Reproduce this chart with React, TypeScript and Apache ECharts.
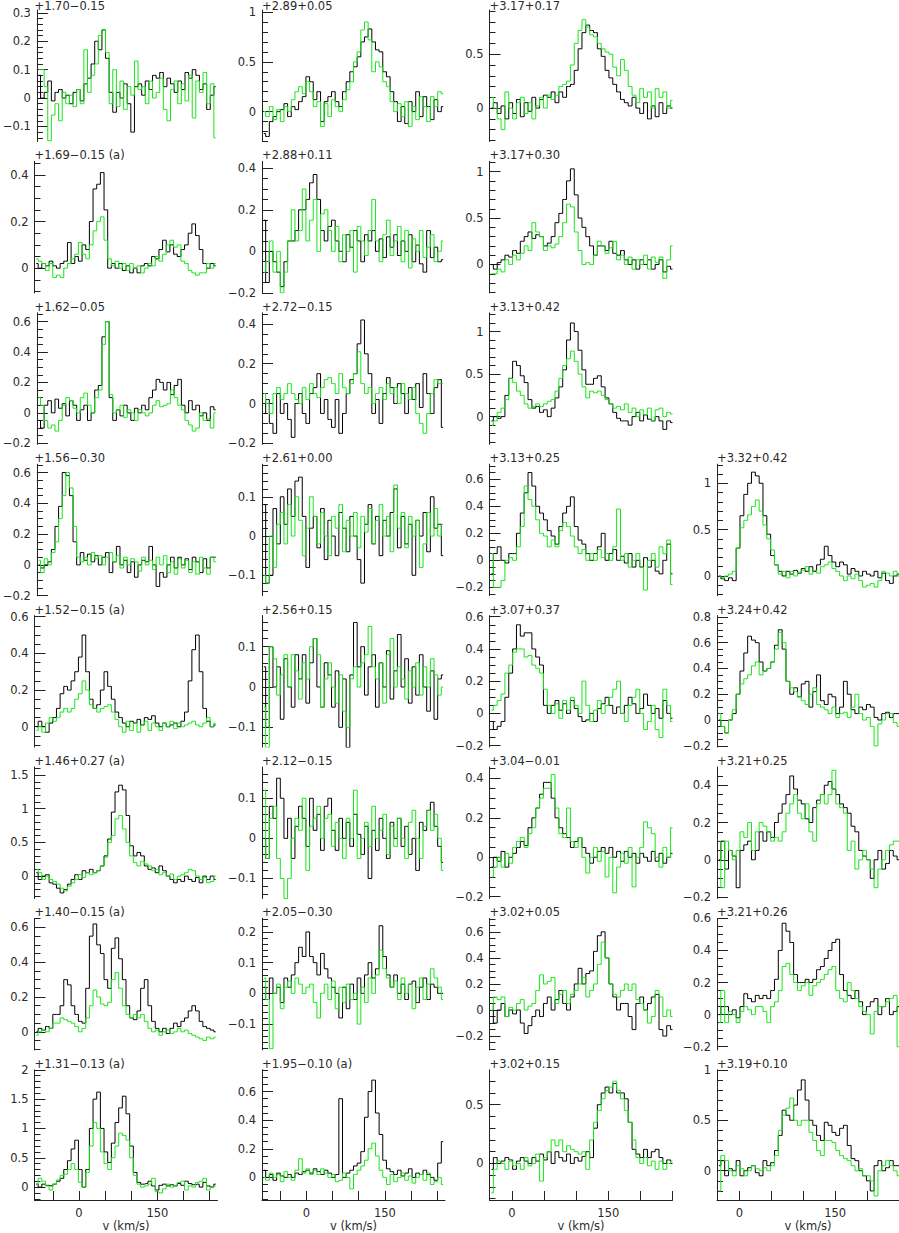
import React, { useEffect, useRef } from "react";
import * as echarts from "echarts";

// Channel velocities (km/s): columns 1-2 and columns 3-4
const velocityWide = [-81.5, -74.5, -67.5, -60.5, -53.5, -46.5, -39.5, -32.5, -25.5, -18.5, -11.5, -4.5, 2.5, 9.5, 16.5, 23.5, 30.5, 37.5, 44.5, 51.5, 58.5, 65.5, 72.5, 79.5, 86.5, 93.5, 100.5, 107.5, 114.5, 121.5, 128.5, 135.5, 142.5, 149.5, 156.5, 163.5, 170.5, 177.5, 184.5, 191.5, 198.5, 205.5, 212.5, 219.5, 226.5, 233.5, 240.5, 247.5, 254.5, 261.5];
const velocityNarrow = [-32, -26, -20, -14, -8, -2, 4, 10, 16, 22, 28, 34, 40, 46, 52, 58, 64, 70, 76, 82, 88, 94, 100, 106, 112, 118, 124, 130, 136, 142, 148, 154, 160, 166, 172, 178, 184, 190, 196, 202, 208, 214, 220, 226, 232, 238, 244, 250];

// Column 1
const black_170m015 = [.08, 0, .02, .06, -.01, .02, .03, 0, .01, -.02, .02, .03, -.01, .05, .07, .12, .2, .17, .24, .14, .02, -.05, .02, 0, .05, -.02, -.12, .04, .05, .01, .06, .03, .08, .07, .09, .04, .07, .05, .02, .06, .03, .09, .07, .1, .08, .03, .05, -.04, .01, .04];
const green_170m015 = [.1, .1, .04, -.15, -.06, -.02, -.08, .02, -.02, .01, -.03, .03, -.02, .17, .02, .08, .12, .22, .24, .16, -.02, .1, -.03, .06, -.04, .04, .01, .13, .03, .04, -.02, .06, 0, .02, .07, -.04, -.08, .03, .06, -.02, .05, -.01, .08, -.07, .06, .02, .09, -.02, .05, -.14];
const black_169m015 = [.02, 0, .02, .01, .03, .01, 0, .02, .03, .11, .02, .05, .03, .1, .08, .2, .34, .36, .41, .25, 0, .02, 0, .02, -.01, .01, -.02, 0, -.02, .01, .02, .01, .05, .04, .08, .12, .07, .1, .06, .05, .08, .1, .15, .19, .14, .08, .02, 0, .02, .01];
const green_169m015 = [.04, .03, .02, -.01, .02, -.04, -.03, -.04, 0, .02, .04, .06, .11, .06, .04, .1, .16, .2, .22, .12, .04, .01, .03, 0, .02, -.01, .02, 0, .01, -.02, 0, .02, .01, .05, .03, .06, .1, .12, .09, .1, .03, .02, -.01, -.02, -.03, -.02, -.02, .02, 0, .02];
const black_162m005 = [-.05, -.1, .05, .08, 0, .09, .03, .06, -.02, .08, .05, -.05, .02, .05, -.05, 0, .15, .18, .5, .6, .1, -.05, .02, -.02, .05, 0, -.05, .03, 0, .05, .02, .1, .15, .22, .2, .15, .2, .12, .18, .22, .05, 0, .08, .02, .05, -.02, 0, -.05, .04, .02];
const green_162m005 = [.1, .05, -.05, -.1, -.08, -.12, -.05, .05, .1, .08, .03, 0, .1, .13, .05, 0, .1, .15, .45, .6, .12, 0, .02, .05, -.03, .02, 0, -.05, .02, 0, -.02, 0, .05, .08, .04, .05, .06, .15, .1, .05, .02, -.05, -.08, -.12, -.1, 0, -.05, -.04, -.1, 0];
const black_156m030 = [0, -.02, 0, .02, .1, .25, .38, .6, .58, .45, .15, 0, .08, .03, .07, .02, .06, 0, .05, .08, -.05, .02, .12, 0, .03, -.05, .02, -.08, 0, .03, .02, .12, 0, -.14, -.05, -.08, 0, .05, -.02, .05, 0, .04, -.03, .05, .02, -.05, .04, -.02, .05, .05];
const green_156m030 = [.03, -.05, .04, 0, .08, .15, .3, .45, .6, .5, .25, .05, .02, .05, 0, .08, .04, .06, 0, .05, .08, .02, .06, -.02, .05, 0, .04, .02, -.04, .05, 0, .03, -.03, .05, 0, .06, -.05, .02, -.06, .04, -.02, .03, -.05, .02, -.06, .05, -.02, -.06, .05, .02];
const black_152m015 = [0, .03, 0, -.03, .02, .05, .1, .18, .22, .2, .25, .3, .38, .5, .3, .15, .1, .12, .2, .3, .22, .15, .08, .05, .02, 0, .03, .02, .04, .01, .05, .04, .06, .02, 0, .02, 0, .01, .02, 0, .03, .08, .25, .42, .5, .3, .1, .03, 0, .01];
const green_152m015 = [-.02, 0, -.03, .02, .05, .03, .05, .08, .1, .08, .1, .15, .18, .25, .2, .12, .1, .08, .1, .11, .12, .08, .04, 0, -.03, .03, -.02, .02, -.03, .01, .03, -.02, .02, 0, -.02, .02, 0, .03, -.01, .02, 0, .01, .02, .03, .01, 0, .02, .05, 0, .02];
const black_146p027 = [.05, -.05, 0, .02, -.1, -.12, -.18, -.25, -.2, -.12, -.05, .02, -.05, .08, .05, .1, .05, .08, .15, .3, .55, .95, 1.25, 1.35, 1.28, .9, .45, .3, .35, .3, .15, .1, .12, .05, .15, .08, 0, -.05, -.1, -.05, -.08, 0, -.05, -.08, -.02, -.1, 0, -.05, 0, -.05];
const green_146p027 = [.1, .05, -.05, 0, -.05, -.08, -.12, -.18, -.22, -.15, -.1, -.05, .02, -.02, .05, .02, .05, .08, .15, .28, .5, .6, .85, .9, .7, .5, .3, .2, .15, .22, .18, .15, .08, .1, .02, .05, 0, .03, -.05, 0, .02, .05, .1, .08, 0, -.05, -.02, -.1, -.08, 0];
const black_140m015 = [0, .02, .01, .03, .02, .1, .1, .15, .3, .27, .15, .1, .06, .05, .25, .55, .62, .5, .45, .3, .25, .48, .54, .42, .3, .15, .08, .07, .12, .25, .3, .15, .06, .02, 0, .02, -.01, .02, .05, .03, .06, .08, .12, .15, .12, .06, .03, .02, .01, 0];
const green_140m015 = [-.02, 0, .01, 0, .02, .05, .05, .08, .07, .06, .05, .03, 0, .02, .08, .15, .24, .2, .16, .15, .17, .3, .34, .25, .15, .1, .08, .1, .08, .1, .06, .02, 0, .01, -.02, 0, .01, -.01, 0, .02, 0, .01, -.01, -.02, -.03, -.04, -.05, -.03, -.04, -.03];
const black_131m013 = [.05, 0, .05, .03, .02, .05, .1, .15, .3, .45, .65, .8, .3, 0, .3, 1, 1.5, 1.62, 1, .6, .42, .75, 1.1, 1.35, 1.55, 1.25, .7, .25, .08, .05, .06, .1, .02, -.05, .03, .05, .02, .04, .02, .06, .03, .1, .06, .04, .05, 0, .08, .02, 0, .05];
const green_131m013 = [.05, .15, .1, .02, -.05, .05, .12, .2, .22, .3, .4, .3, .08, 0, .25, .7, 1.1, 1, .6, .4, .3, .5, .7, .92, .88, .8, .5, .2, .05, 0, .02, .05, .15, -.08, -.1, -.03, .05, 0, .03, .08, .1, -.05, .02, 0, .08, .1, .15, -.05, 0, .02];

// Column 2
const black_289p005 = [-.22, -.25, -.1, -.05, 0, .02, .08, -.05, .05, .02, .1, .15, .35, .3, .12, .2, -.1, .1, .15, .2, .1, .05, .2, .3, .4, .45, .55, .7, .75, .83, .7, .62, .6, .4, .35, .2, .1, -.1, .05, -.12, .1, 0, .2, -.05, .15, .05, -.08, .12, 0, .05];
const green_289p005 = [0, -.05, .05, -.08, .02, -.1, .05, 0, .12, .2, .25, .18, .3, .2, .05, .1, -.15, .08, -.05, .12, .05, 0, .12, .22, .3, .5, .6, .82, .9, .72, .4, .5, .45, .3, .25, .1, 0, .08, -.05, .1, -.15, .05, -.08, .15, .05, -.1, .15, .05, .2, .18];
const black_288p011 = [.15, -.15, 0, -.05, -.1, -.17, -.05, .05, .05, .1, .2, .2, .25, .33, .37, .25, .1, .05, .12, .15, .05, 0, -.05, .08, .02, .1, .05, -.05, .08, .05, .1, 0, .06, -.03, .07, .02, .08, -.02, .05, 0, .08, -.05, .03, -.06, -.1, .1, -.03, .02, -.05, -.04];
const green_288p011 = [-.1, -.05, .05, -.1, 0, -.2, -.1, .05, .2, .05, .1, .3, .05, .15, .25, 0, .18, .2, .1, 0, .12, -.05, .08, 0, .1, -.1, .12, .05, -.02, .1, .25, .05, -.05, .08, .15, -.02, .05, .12, -.05, .1, -.08, .06, 0, .1, -.03, .02, .08, -.05, 0, .05];
const black_272m015 = [-.05, .02, -.1, -.15, .05, -.05, 0, -.08, -.17, 0, .05, -.05, -.1, .05, .08, .15, -.05, .02, -.08, -.12, .02, -.15, -.05, .05, .12, .15, .3, .42, .25, .15, -.05, .02, -.1, .05, .13, .08, 0, .1, .05, -.05, .08, .02, .1, -.02, .15, .05, -.05, .08, .12, -.12];
const green_272m015 = [.05, 0, -.05, .05, .08, .02, .05, .1, .05, .02, 0, .08, .02, .1, .05, .03, .08, .12, .13, .1, .05, .15, .08, .05, .1, .15, .26, .1, .05, .08, 0, .05, .08, .02, .1, .05, .08, 0, .1, .05, .02, .08, -.05, -.1, -.15, -.05, .05, .12, .1, .1];
const black_261p000 = [.08, -.12, -.1, .07, -.02, .1, .03, .12, .05, .14, .15, .05, -.08, .02, .05, -.03, .07, -.06, .04, 0, -.05, .06, .02, -.04, .05, 0, -.06, -.12, .03, .08, -.02, .05, -.05, .04, 0, .06, .12, -.03, .05, -.02, .03, -.1, .04, 0, .06, -.04, .1, .02, .03, -.05];
const green_261p000 = [-.1, -.12, 0, -.08, .03, .06, -.02, .08, 0, .1, .04, -.05, .02, .1, .05, -.02, .06, 0, -.05, .05, .02, .08, -.04, .04, 0, .06, -.03, .05, .01, .07, -.02, .04, .08, 0, .05, -.04, .13, .02, .06, -.03, .05, 0, .04, -.08, -.02, .06, 0, .07, 0, .03];
const black_256p015 = [.05, -.1, .1, 0, .05, -.08, .07, 0, -.05, .08, .02, .08, -.04, .06, .12, 0, -.05, .06, .03, -.05, .04, -.1, .02, -.15, .03, .16, .05, .1, -.02, .05, .08, -.05, .06, 0, .09, -.03, .04, .13, 0, .07, -.04, .05, -.02, .08, 0, -.06, .04, -.08, .02, .03];
const green_256p015 = [-.05, -.15, .1, .07, -.02, .03, .08, 0, .08, .04, -.03, .06, .02, .1, .12, .08, -.05, .02, .06, 0, -.04, .03, -.06, -.1, .02, .05, 0, .06, .08, .15, .05, .02, .06, -.04, .08, .12, 0, .05, .02, -.03, .04, 0, .06, -.02, .05, 0, .07, .03, -.02, 0];
const black_212m015 = [0, -.05, .08, .05, .15, .1, 0, .05, -.05, .03, .08, .05, -.02, .1, .02, .06, -.03, .08, .1, .02, -.03, .05, 0, .04, -.02, .06, .01, -.04, .03, -.1, .02, -.03, .05, 0, -.05, .04, 0, .05, -.02, .03, -.04, 0, -.08, .04, .02, .07, .09, .03, -.02, -.06];
const green_212m015 = [.12, -.05, .05, .08, -.05, -.1, -.15, -.1, 0, .05, .02, .1, -.08, .03, .05, .08, 0, .05, .06, -.02, .04, 0, -.05, .05, 0, .12, -.05, 0, .04, -.02, .08, 0, .02, .06, -.04, .03, -.02, .05, 0, -.05, .04, .07, 0, -.05, .03, .07, .02, .06, 0, -.08];
const black_205m030 = [.02, -.02, .05, 0, .02, -.03, .05, .02, .06, .1, .15, .12, .2, .12, .1, .06, .13, .08, .05, .02, 0, -.08, .02, -.05, .03, -.02, .05, 0, .06, .1, .05, .08, .22, .12, .06, .02, .06, 0, .03, -.02, .03, .04, -.03, .02, .05, -.02, .03, .02, 0, 0];
const green_205m030 = [.05, -.02, -.18, 0, .03, -.05, .02, .04, 0, .05, .03, 0, .02, .03, -.03, -.08, 0, .03, -.02, .04, -.05, .02, -.03, .03, -.02, 0, -.1, .02, -.03, .05, 0, .06, .14, .08, .05, .02, .04, -.02, .05, 0, .03, -.05, .02, .05, -.02, .03, .08, .05, .02, -.02];
const black_195m010 = [.05, 0, .02, -.02, .03, .01, 0, .02, 0, .03, .02, .04, .05, .03, .06, .04, .02, .05, .03, 0, .02, .55, 0, .03, .05, .08, .1, .18, .42, .6, .68, .45, .3, .12, .06, .04, .02, .05, .01, .03, .06, 0, .03, .02, .05, .02, 0, -.02, .1, .25];
const green_195m010 = [0, -.02, .03, 0, .02, -.03, .04, 0, -.02, .05, .13, .03, .06, .02, .05, .02, .06, .03, 0, .02, -.03, -.02, .03, 0, -.08, .02, .05, .08, .12, .2, .24, .15, .05, 0, -.05, .02, -.03, 0, .03, -.02, .01, -.04, 0, .02, -.02, .03, -.05, -.03, 0, -.05];

// Column 3
const black_317p017 = [0, .05, -.05, .02, -.1, .05, -.05, .08, -.08, .05, -.03, .1, 0, .08, .12, .1, .15, .05, .15, .1, .2, .22, .35, .55, .7, .77, .72, .7, .55, .48, .35, .28, .22, .15, .08, .05, .02, .1, 0, -.05, .05, -.1, .02, -.08, .05, -.05, .02, 0];
const green_317p017 = [.1, 0, -.1, -.2, .15, 0, -.1, .05, .1, -.05, .05, -.1, .02, .1, 0, .12, .08, .12, .2, .22, .25, .4, .6, .72, .82, .75, .68, .66, .6, .55, .52, .5, .38, .3, .45, .35, .2, .12, .05, .18, .1, .15, 0, .18, .1, .15, 0, .07];
const black_317p030 = [0, -.05, .02, .05, .1, .08, .15, .12, .25, .3, .35, .28, .32, .3, .2, .23, .3, .45, .55, .7, .9, 1.03, .75, .5, .4, .3, .2, .1, .2, .2, .15, .25, .12, .1, .15, .05, 0, .05, -.05, .05, 0, .05, -.05, 0, .05, -.08, -.02, -.05];
const green_317p030 = [-.1, -.1, -.05, -.08, .05, 0, .1, .05, .12, .2, .15, .45, .35, .3, .15, .2, .18, .22, .3, .45, .65, .62, .35, .15, 0, .02, 0, .1, .25, .2, .12, .18, .25, .05, .1, 0, .08, -.05, .05, 0, .1, -.05, .08, .02, .08, -.15, .05, .2];
const black_313p042 = [-.05, 0, -.02, 0, .25, .45, .65, .6, .48, .4, .2, .1, .12, .05, .08, 0, .1, .22, .35, .55, .9, 1.1, 1, .78, .55, .38, .38, .45, .48, .35, .22, .15, .05, -.02, -.05, -.05, -.1, 0, .05, -.05, .02, -.03, -.05, 0, -.05, -.15, -.05, -.07];
const green_313p042 = [-.1, -.05, .05, .1, .2, .45, .4, .3, .25, .15, .1, .12, .15, .12, .15, .18, .2, .3, .45, .6, .68, .77, .65, .5, .35, .22, .3, .28, .3, .25, .2, .15, .1, .12, .08, .15, .05, .1, 0, .08, .02, .1, -.05, .08, .1, 0, .05, .03];
const black_313p025 = [-.1, .05, .1, 0, -.02, .05, .05, .2, .35, .5, .65, .55, .4, .35, .3, .22, .18, .12, .25, .35, .4, .47, .25, .15, .12, .05, 0, .05, .1, .2, 0, .05, .08, 0, .03, -.02, .05, -.05, 0, -.05, .02, -.05, 0, -.08, -.1, 0, .12, -.1];
const green_313p025 = [.05, -.2, -.2, -.15, 0, .02, 0, .1, .25, .55, .45, .4, .3, .2, .18, .1, .15, .1, .22, .28, .25, .18, .1, .05, .08, 0, .05, 0, .08, .02, .05, 0, .1, .38, 0, .05, -.05, 0, .05, -.05, -.22, 0, .05, -.05, .1, .05, .15, -.18];
const black_307p037 = [-.05, -.1, -.08, -.05, .1, .25, .4, .55, .48, .5, .5, .4, .35, .3, .05, 0, .05, .08, .02, .06, 0, .08, .03, -.02, -.05, -.04, 0, -.05, .03, .06, .1, .05, 0, .04, 0, .05, .1, .06, 0, .03, .12, .05, 0, .03, -.03, .08, 0, -.03];
const green_307p037 = [.02, .05, .08, .12, .25, .3, .38, .4, .4, .35, .36, .3, .28, .25, .15, .05, 0, .06, -.03, .08, .02, .1, .05, 0, .2, .05, -.05, .02, .08, 0, .05, .1, .15, .2, 0, -.05, .05, .1, .15, 0, -.1, -.05, .05, -.1, -.15, .15, .05, -.05];
const black_304m001 = [-.05, 0, -.02, .03, -.05, 0, .02, .05, .08, .06, .15, .2, .25, .32, .38, .38, .3, .2, .15, .12, .1, .05, .08, .1, .05, .02, -.03, 0, .03, .05, .02, .05, 0, .03, -.02, .03, 0, .02, -.03, .02, 0, -.02, .03, -.02, .02, -.03, 0, .02];
const green_304m001 = [-.1, -.05, 0, -.05, .02, -.03, .05, .08, .1, .05, .12, .15, .25, .3, .35, .35, .42, .25, .12, .1, .25, .08, .05, .1, 0, -.08, 0, .05, -.02, .03, -.1, 0, -.18, -.05, .02, -.03, .05, -.15, 0, .05, .18, .15, .12, 0, -.05, .05, 0, .15];
const black_302p005 = [.05, -.1, 0, .05, -.05, 0, -.03, 0, -.1, -.18, -.12, -.05, 0, -.05, .05, .1, 0, .08, .15, .05, 0, .1, .2, .32, .2, .28, .3, .45, .57, .6, .4, .2, .1, 0, .05, .05, -.05, -.15, .05, .1, 0, .05, .1, .12, -.15, -.2, -.12, -.15];
const green_302p005 = [0, .1, .08, .1, -.05, .02, 0, .05, .08, 0, .03, .05, .15, .27, .2, .22, .25, .05, .12, .15, .05, .12, .15, .2, .25, .1, .15, .2, .35, .52, .4, .2, .12, .1, .15, .2, .15, .2, .08, .05, 0, -.1, -.05, .15, .1, -.05, 0, -.05];
const black_302p015 = [-.05, .05, 0, .02, .05, .03, -.05, .02, .05, .02, 0, .05, .02, .08, .03, .1, 0, .1, .05, .02, .08, 0, .05, .02, .06, .1, .05, .3, .5, .6, .65, .6, .68, .6, .6, .55, .35, .12, .08, .05, .12, .05, .1, .12, .05, 0, .03, 0];
const green_302p015 = [-.25, -.05, .02, 0, -.05, .02, -.02, 0, -.05, .05, -.02, 0, .08, -.15, .05, .1, .2, .15, .2, .1, .15, .12, .1, .08, .1, -.05, .2, .35, .45, .55, .62, .65, .7, .62, .55, .45, .35, .2, .05, 0, .05, -.02, .02, -.05, .02, -.05, 0, .02];

// Column 4
const black_332p042 = [0, -.03, -.05, -.02, -.05, .3, .65, .88, 1, 1.12, 1.08, 1, .65, .45, .22, .12, .05, 0, .05, .02, .06, .03, .08, .05, .1, .05, .12, .18, .32, .22, .15, .1, .15, .12, .02, .08, .05, 0, .05, .02, 0, .05, -.02, .03, -.05, -.08, 0, .02];
const green_332p042 = [0, -.02, 0, .02, .05, .3, .52, .6, .66, .75, .82, .7, .55, .4, .28, .12, .02, .05, -.02, .05, 0, .04, .06, .1, .02, .06, .03, .1, .12, .15, .08, .05, 0, -.05, 0, -.03, .02, -.05, -.12, -.1, -.08, -.12, -.05, .05, .03, 0, .05, 0];
const black_324p042 = [0, -.05, -.1, 0, .05, .2, .38, .52, .65, .62, .6, .45, .38, .4, .45, .58, .7, .55, .3, .2, .25, .18, .28, .3, .1, .22, .35, .15, .12, .2, .18, .05, .1, .3, .2, .08, .05, .1, .08, .12, .1, .02, 0, .05, .06, .02, .05, .05];
const green_324p042 = [.05, -.05, -.1, 0, .08, .2, .28, .32, .35, .42, .45, .35, .38, .4, .45, .55, .68, .6, .3, .25, .22, .18, .15, .12, .2, .25, .12, .1, .08, .05, .1, .02, .05, .06, .02, .1, .2, .05, 0, .02, -.05, -.2, -.03, 0, .05, .05, -.02, -.05];
const black_321p025 = [0, .1, -.05, .05, .02, -.15, .05, .08, .1, 0, .05, .15, .1, .15, .12, .2, .25, .3, .35, .45, .38, .32, .3, .22, .2, .28, .32, .35, .4, .42, .38, .35, .3, .28, .25, .18, .15, .05, .02, 0, -.1, 0, .05, -.05, -.02, .05, .02, 0];
const green_321p025 = [.1, -.15, .1, .05, 0, .05, .15, .12, .2, .05, .15, .2, .18, .15, .1, .12, .1, .15, .25, .3, .35, .25, .22, .3, .15, .1, .3, .35, .3, .35, .48, .3, .28, .25, .05, .1, -.05, 0, .05, 0, -.05, -.15, -.05, 0, .05, .08, .1, .1];
const black_321p026 = [0, .05, .05, 0, .03, -.02, .05, .13, .1, .08, .12, .1, .12, .1, .15, .22, .4, .57, .52, .45, .25, .2, .2, .22, .2, .22, .28, .3, .35, .4, .45, .47, .25, .15, .12, .1, .15, .08, 0, .05, .08, .1, 0, .05, .1, 0, .02, .05];
const green_321p026 = [-.05, .15, -.05, .02, 0, -.05, .02, .05, .03, 0, .05, .05, .02, -.05, .05, .08, .15, .3, .32, .25, .2, .15, .18, .2, .12, .18, .2, .22, .25, .28, .3, .15, .1, .08, .2, .15, .1, .05, .02, 0, -.12, .02, .05, .05, .08, .1, .12, -.2];
const black_319p010 = [.05, .1, -.05, .02, 0, .1, -.05, 0, .03, .05, -.02, -.05, .1, .05, .08, .2, .35, .6, .55, .5, .65, .8, .9, .7, .5, .45, .35, .3, .48, .45, .38, .35, .42, .45, .25, .12, .1, 0, -.05, -.1, -.2, .05, .1, 0, .03, .1, .05, .05];
const green_319p010 = [-.2, .15, .1, 0, -.05, .05, .02, -.05, 0, .05, .02, 0, .03, 0, .05, .15, .4, .55, .62, .72, .5, .45, .5, .5, .38, .3, .2, .15, .3, .3, .28, .2, .15, .12, .1, .05, 0, .02, -.05, -.05, -.1, -.25, 0, .05, .1, .05, 0, -.05];

// Axis tick labels on the velocity axes
const velocityTickValues = [-50, 0, 50, 100, 150, 200, 250];
const velocityLabelValues = [0, 150];
const velocityAxisName = "v (km/s)";

type Panel = {
  title: string; row: number; col: number;
  yMin: number; yMax: number; major: number; minor: number;
  black: number[]; green: number[];
};

const panels: Panel[] = [
  { title: "+1.70−0.15", row: 0, col: 0, yMin: -0.153, yMax: 0.31, major: 0.1, minor: 0.02, black: black_170m015, green: green_170m015 },
  { title: "+2.89+0.05", row: 0, col: 1, yMin: -0.3, yMax: 1.02, major: 0.5, minor: 0.1, black: black_289p005, green: green_289p005 },
  { title: "+3.17+0.17", row: 0, col: 2, yMin: -0.31, yMax: 0.91, major: 0.5, minor: 0.1, black: black_317p017, green: green_317p017 },
  { title: "+1.69−0.15 (a)", row: 1, col: 0, yMin: -0.106, yMax: 0.458, major: 0.2, minor: 0.05, black: black_169m015, green: green_169m015 },
  { title: "+2.88+0.11", row: 1, col: 1, yMin: -0.2, yMax: 0.433, major: 0.2, minor: 0.05, black: black_288p011, green: green_288p011 },
  { title: "+3.17+0.30", row: 1, col: 2, yMin: -0.306, yMax: 1.11, major: 0.5, minor: 0.1, black: black_317p030, green: green_317p030 },
  { title: "+1.62−0.05", row: 2, col: 0, yMin: -0.207, yMax: 0.658, major: 0.2, minor: 0.05, black: black_162m005, green: green_162m005 },
  { title: "+2.72−0.15", row: 2, col: 1, yMin: -0.205, yMax: 0.456, major: 0.2, minor: 0.05, black: black_272m015, green: green_272m015 },
  { title: "+3.13+0.42", row: 2, col: 2, yMin: -0.325, yMax: 1.22, major: 0.5, minor: 0.1, black: black_313p042, green: green_313p042 },
  { title: "+1.56−0.30", row: 3, col: 0, yMin: -0.2, yMax: 0.654, major: 0.2, minor: 0.05, black: black_156m030, green: green_156m030 },
  { title: "+2.61+0.00", row: 3, col: 1, yMin: -0.152, yMax: 0.183, major: 0.1, minor: 0.02, black: black_261p000, green: green_261p000 },
  { title: "+3.13+0.25", row: 3, col: 2, yMin: -0.262, yMax: 0.712, major: 0.2, minor: 0.05, black: black_313p025, green: green_313p025 },
  { title: "+3.32+0.42", row: 3, col: 3, yMin: -0.213, yMax: 1.206, major: 0.5, minor: 0.1, black: black_332p042, green: green_332p042 },
  { title: "+1.52−0.15 (a)", row: 4, col: 0, yMin: -0.111, yMax: 0.606, major: 0.2, minor: 0.05, black: black_152m015, green: green_152m015 },
  { title: "+2.56+0.15", row: 4, col: 1, yMin: -0.149, yMax: 0.177, major: 0.1, minor: 0.02, black: black_256p015, green: green_256p015 },
  { title: "+3.07+0.37", row: 4, col: 2, yMin: -0.209, yMax: 0.607, major: 0.2, minor: 0.05, black: black_307p037, green: green_307p037 },
  { title: "+3.24+0.42", row: 4, col: 3, yMin: -0.21, yMax: 0.81, major: 0.2, minor: 0.05, black: black_324p042, green: green_324p042 },
  { title: "+1.46+0.27 (a)", row: 5, col: 0, yMin: -0.333, yMax: 1.62, major: 0.5, minor: 0.1, black: black_146p027, green: green_146p027 },
  { title: "+2.12−0.15", row: 5, col: 1, yMin: -0.15, yMax: 0.178, major: 0.1, minor: 0.02, black: black_212m015, green: green_212m015 },
  { title: "+3.04−0.01", row: 5, col: 2, yMin: -0.209, yMax: 0.458, major: 0.2, minor: 0.05, black: black_304m001, green: green_304m001 },
  { title: "+3.21+0.25", row: 5, col: 3, yMin: -0.208, yMax: 0.498, major: 0.2, minor: 0.05, black: black_321p025, green: green_321p025 },
  { title: "+1.40−0.15 (a)", row: 6, col: 0, yMin: -0.104, yMax: 0.652, major: 0.2, minor: 0.05, black: black_140m015, green: green_140m015 },
  { title: "+2.05−0.30", row: 6, col: 1, yMin: -0.184, yMax: 0.244, major: 0.1, minor: 0.02, black: black_205m030, green: green_205m030 },
  { title: "+3.02+0.05", row: 6, col: 2, yMin: -0.306, yMax: 0.703, major: 0.2, minor: 0.05, black: black_302p005, green: green_302p005 },
  { title: "+3.21+0.26", row: 6, col: 3, yMin: -0.22, yMax: 0.6, major: 0.2, minor: 0.05, black: black_321p026, green: green_321p026 },
  { title: "+1.31−0.13 (a)", row: 7, col: 0, yMin: -0.22, yMax: 2.0, major: 0.5, minor: 0.1, black: black_131m013, green: green_131m013 },
  { title: "+1.95−0.10 (a)", row: 7, col: 1, yMin: -0.158, yMax: 0.752, major: 0.2, minor: 0.05, black: black_195m010, green: green_195m010 },
  { title: "+3.02+0.15", row: 7, col: 2, yMin: -0.311, yMax: 0.797, major: 0.5, minor: 0.1, black: black_302p015, green: green_302p015 },
  { title: "+3.19+0.10", row: 7, col: 3, yMin: -0.29, yMax: 1.0, major: 0.5, minor: 0.1, black: black_319p010, green: green_319p010 },
];

// Layout / style
const FONT = '"DejaVu Sans", "Liberation Sans", sans-serif';
const COL_X = [34.5, 262, 489.5, 717];
const ROW_TOP0 = 10;
const ROW_STEP = 151.4;
const PLOT_W = 183;
const PLOT_H = 131.5;
const LAST_ROW = 7;
const AXIS_COLOR = "#222";
const TEXT_COLOR = "#2a2a2a";
const BLACK_LINE = "#000000";
const GREEN_LINE = "#19e619";

function tickList(min: number, max: number, step: number): number[] {
  const out: number[] = [];
  const s = Math.ceil(min / step - 1e-6);
  const e = Math.floor(max / step + 1e-6);
  for (let k = s; k <= e; k++) out.push(Math.round(k * step * 1000) / 1000);
  return out;
}

function fmt(v: number): string {
  const r = Math.round(v * 1000) / 1000;
  if (r === 0) return "0";
  return String(r).replace("-", "−");
}

function buildOption() {
  const grid: any[] = [];
  const xAxis: any[] = [];
  const yAxis: any[] = [];
  const series: any[] = [];
  const graphic: any[] = [];

  panels.forEach((p, idx) => {
    const left = COL_X[p.col];
    const top = ROW_TOP0 + p.row * ROW_STEP;
    const narrow = p.col >= 2;
    const vel = narrow ? velocityNarrow : velocityWide;
    const xMin = narrow ? -35 : -85;
    const xMax = narrow ? 250 : 265;
    const isBottom = p.row === LAST_ROW;

    grid.push({ left, top, width: PLOT_W, height: PLOT_H, containLabel: false });

    xAxis.push({
      type: "value",
      gridIndex: idx,
      min: xMin,
      max: xMax,
      show: isBottom,
      axisLine: { show: true, onZero: false, lineStyle: { color: AXIS_COLOR, width: 1 } },
      axisTick: {
        show: true,
        inside: true,
        length: 9,
        customValues: velocityTickValues.filter((v) => v >= xMin && v <= xMax),
        lineStyle: { color: AXIS_COLOR, width: 1 },
      },
      axisLabel: {
        show: true,
        customValues: velocityLabelValues,
        margin: 7,
        fontSize: 11.5,
        fontFamily: FONT,
        color: TEXT_COLOR,
        formatter: (v: number) => fmt(v),
      },
      splitLine: { show: false },
      name: isBottom ? velocityAxisName : "",
      nameLocation: "middle",
      nameGap: 20,
      nameTextStyle: { fontSize: 11.5, fontFamily: FONT, color: TEXT_COLOR },
    });

    const majors = tickList(p.yMin, p.yMax, p.major);
    const minors = tickList(p.yMin, p.yMax, p.minor).filter(
      (m) => !majors.some((M) => Math.abs(M - m) < 1e-6)
    );

    yAxis.push({
      type: "value",
      gridIndex: idx,
      position: "left",
      offset: 0,
      min: p.yMin,
      max: p.yMax,
      axisLine: { show: true, onZero: false, lineStyle: { color: AXIS_COLOR, width: 1 } },
      axisTick: { show: true, inside: true, length: 11, customValues: majors, lineStyle: { color: AXIS_COLOR, width: 1 } },
      axisLabel: {
        show: true,
        customValues: majors,
        margin: 6,
        fontSize: 11.5,
        fontFamily: FONT,
        color: TEXT_COLOR,
        formatter: (v: number) => fmt(v),
      },
      splitLine: { show: false },
    });
    yAxis.push({
      type: "value",
      gridIndex: idx,
      position: "left",
      offset: 0,
      min: p.yMin,
      max: p.yMax,
      axisLine: { show: false, onZero: false },
      axisTick: { show: true, inside: true, length: 6, customValues: minors, lineStyle: { color: AXIS_COLOR, width: 1 } },
      axisLabel: { show: false },
      splitLine: { show: false },
    });

    const yIdx = idx * 2;
    series.push({
      type: "line",
      xAxisIndex: idx,
      yAxisIndex: yIdx,
      step: "middle",
      symbol: "none",
      silent: true,
      clip: true,
      lineStyle: { color: BLACK_LINE, width: 1 },
      data: vel.map((v, i) => [v, p.black[i]]),
      z: 2,
    });
    series.push({
      type: "line",
      xAxisIndex: idx,
      yAxisIndex: yIdx,
      step: "middle",
      symbol: "none",
      silent: true,
      clip: true,
      lineStyle: { color: GREEN_LINE, width: 1 },
      data: vel.map((v, i) => [v, p.green[i]]),
      z: 3,
    });

    graphic.push({
      type: "text",
      x: left,
      y: p.row === 0 ? Math.max(top, 11.5) : top,
      silent: true,
      style: {
        text: p.title,
        fontSize: 11.5,
        fontFamily: FONT,
        fill: TEXT_COLOR,
        align: "left",
        verticalAlign: "bottom",
        textAlign: "left",
        textVerticalAlign: "bottom",
      },
    });
  });

  return {
    animation: false,
    backgroundColor: "#ffffff",
    grid,
    xAxis,
    yAxis,
    series,
    graphic,
  };
}

export default function App() {
  const ref = useRef<HTMLDivElement>(null);
  useEffect(() => {
    document.body.style.margin = "0";
    if (!ref.current) return;
    const chart = echarts.init(ref.current, undefined, { renderer: "svg" });
    chart.setOption(buildOption() as any);
    return () => {
      chart.dispose();
    };
  }, []);
  return <div ref={ref} style={{ width: 899, height: 1233, background: "#fff" }} />;
}
